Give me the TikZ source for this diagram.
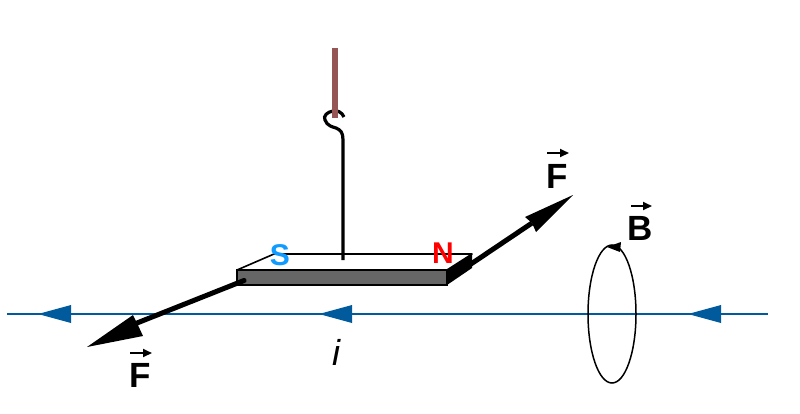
\documentclass[tikz,border=0pt]{standalone}
\usetikzlibrary{arrows.meta}
\usepackage{fontspec}
\setmainfont{Liberation Sans}
\definecolor{wireblue}{HTML}{005A9C}
\definecolor{rodbrown}{HTML}{955555}
\definecolor{southblue}{HTML}{0F9BFF}
\definecolor{bargray}{HTML}{666666}
\tikzset{
  wire/.style={wireblue,line width=2.4pt},
  wirehead/.style={fill=wireblue,draw=none},
  forcehead/.style={fill=black,draw=none},
  forceline/.style={line width=5pt,black},
  pole/.style={font=\fontsize{30}{30}\selectfont\bfseries,inner sep=0pt},
  vectxt/.style={font=\fontsize{35}{35}\selectfont\bfseries,inner sep=0pt,anchor=base},
  vecarrow/.style={line width=2pt,-{Triangle[length=9pt,width=8pt]}},
}
\begin{document}
\begin{tikzpicture}[x=1pt,y=-1pt]
\useasboundingbox (0,0) rectangle (800,413);
% current wire
\coordinate (wl) at (7,314);
\coordinate (wr) at (768,314);
\draw[wire] (wl) -- (wr);
\fill[wirehead] (38,314) -- (71,305) -- (71,323) -- cycle;
\fill[wirehead] (319,314) -- (352,305) -- (352,323) -- cycle;
\fill[wirehead] (688,314) -- (721,305) -- (721,323) -- cycle;
% right force
\coordinate (frs) at (468,266);
\coordinate (frn) at (532,223);
\draw[forceline] (frs) -- (frn);
\fill[forcehead] (573,195) -- (525,217) -- (532,223) -- (536,232) -- cycle;
% magnet
\fill[white] (237,270) -- (274,254) -- (472,254) -- (447,270) -- cycle;
\draw[line width=1.6pt,line join=round] (237,270) -- (274,254) -- (472,254) -- (447,270);
\fill[black] (447,270) -- (472,254) -- (472,268) -- (447,285) -- cycle;
\draw[fill=bargray,line width=2.4pt] (237,270) rectangle (447,285);
% left force
\coordinate (fls) at (244,280.5);
\coordinate (fln) at (137,323);
\draw[forceline,line cap=round] (fls) -- (fln);
\fill[forcehead] (87,347) -- (133,315) -- (137,323) -- (143,336) -- cycle;
% suspension
\draw[line width=3.2pt] (344,117) .. controls (342,112) and (337,110) .. (333,111)
  .. controls (327,112) and (323,116) .. (325,120)
  .. controls (327,126) and (333,127) .. (336,128)
  .. controls (341,130) and (343,133) .. (343,140) -- (343,260);
\draw[rodbrown,line width=6pt] (335,48) -- (335,118);
% field circle
\draw[line width=1.5pt] (612,314) ellipse [x radius=24, y radius=69];
\fill[black] (607,247) -- (621,242) -- (620,252) -- cycle;
% labels
\node[pole,text=southblue] (s) at (280,255) {S};
\node[pole,text=red] (n) at (443,253) {N};
\node[vectxt] (f1) at (140.5,387) {F};
\node[vectxt] (f2) at (557,188) {F};
\node[vectxt] (b) at (640,240) {B};
\coordinate (f1a) at (130,353);
\coordinate (f1b) at (152,353);
\coordinate (f2a) at (547,153);
\coordinate (f2b) at (569,153);
\coordinate (ba) at (631,206);
\coordinate (bb) at (652,206);
\draw[vecarrow] (f1a) -- (f1b);
\draw[vecarrow] (f2a) -- (f2b);
\draw[vecarrow] (ba) -- (bb);
\node[font=\fontsize{36}{36}\selectfont\itshape,inner sep=0pt,anchor=base] (i) at (336,365) {i};
\end{tikzpicture}
\end{document}
